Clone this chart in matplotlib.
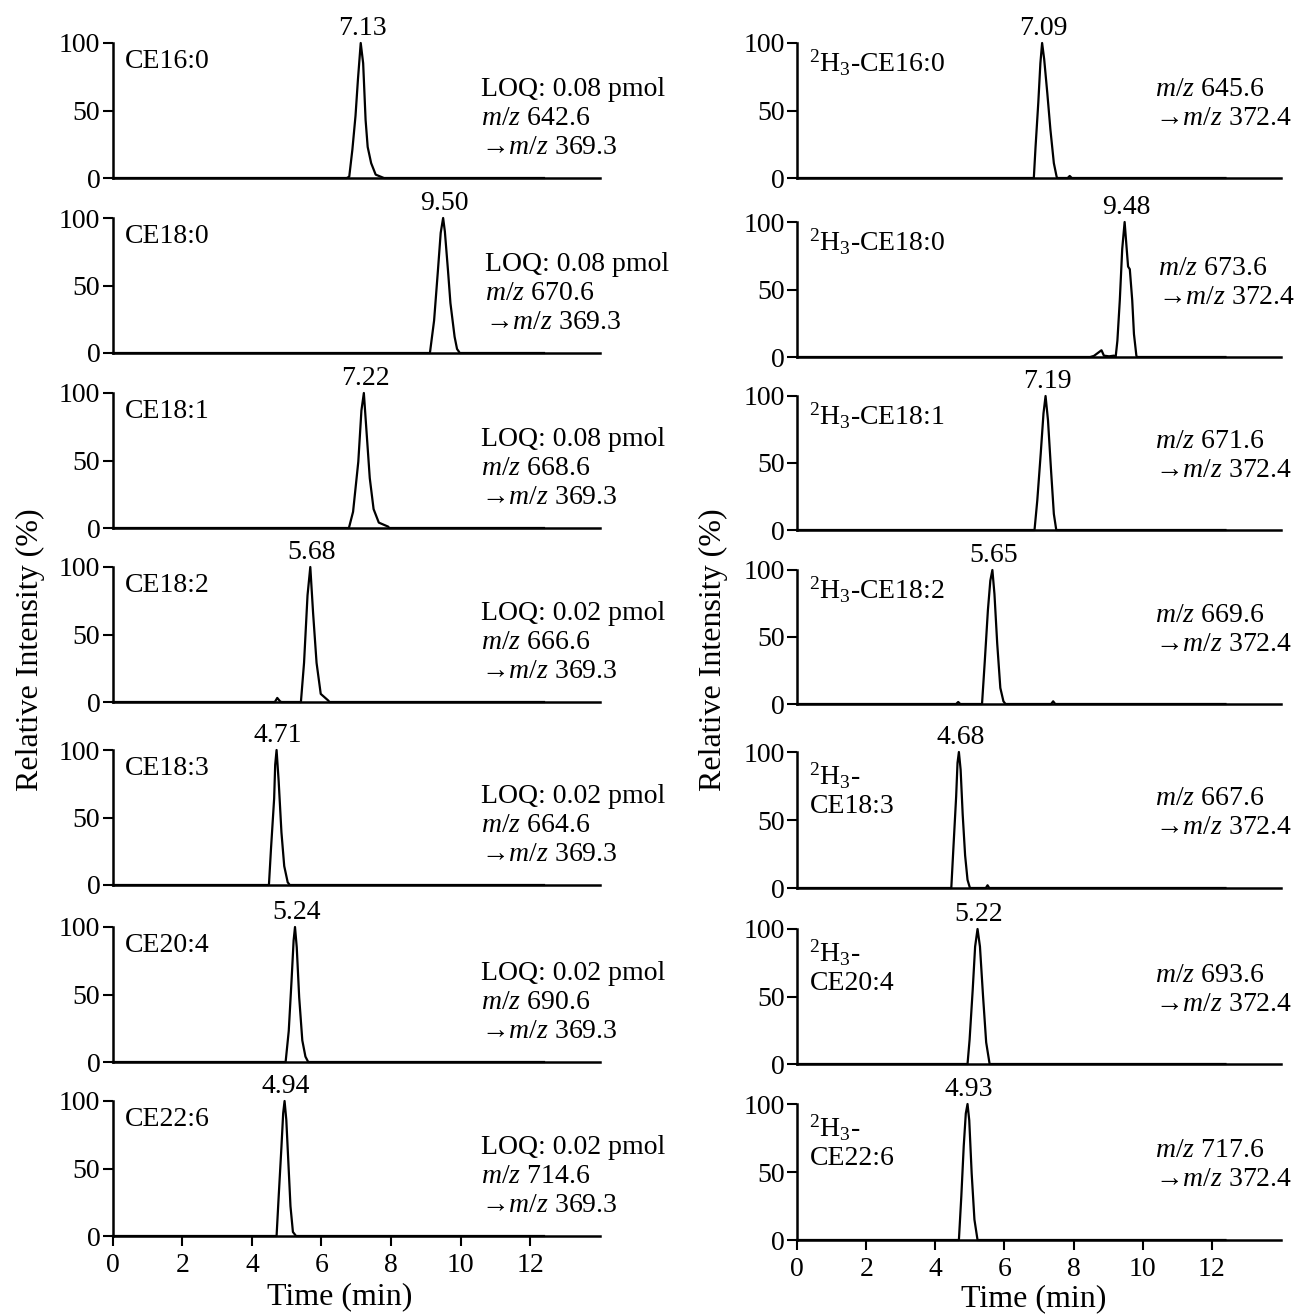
import matplotlib
matplotlib.use("Agg")
import matplotlib.pyplot as plt

plt.rcParams['font.family'] = ['Liberation Serif', 'DejaVu Serif']
plt.rcParams['mathtext.fontset'] = 'custom'
plt.rcParams['mathtext.rm'] = 'Liberation Serif'
plt.rcParams['mathtext.it'] = 'Liberation Serif:italic'

# ---------------- data ----------------
left_names = ["CE16:0", "CE18:0", "CE18:1", "CE18:2", "CE18:3", "CE20:4", "CE22:6"]
left_rt = ["7.13", "9.50", "7.22", "5.68", "4.71", "5.24", "4.94"]
left_loq = ["0.08", "0.08", "0.08", "0.02", "0.02", "0.02", "0.02"]
left_prec = ["642.6", "670.6", "668.6", "666.6", "664.6", "690.6", "714.6"]
left_prod = "369.3"

right_names = ["$^{2}$H$_{3}$-CE16:0", "$^{2}$H$_{3}$-CE18:0", "$^{2}$H$_{3}$-CE18:1",
               "$^{2}$H$_{3}$-CE18:2", "$^{2}$H$_{3}$-\nCE18:3", "$^{2}$H$_{3}$-\nCE20:4",
               "$^{2}$H$_{3}$-\nCE22:6"]
right_rt = ["7.09", "9.48", "7.19", "5.65", "4.68", "5.22", "4.93"]
right_prec = ["645.6", "673.6", "671.6", "669.6", "667.6", "693.6", "717.6"]
right_prod = "372.4"

# chromatogram traces (time in min, relative intensity in %)
L1_t = [0, 6.73, 6.80, 6.89, 6.98, 7.05, 7.13, 7.20, 7.27, 7.33, 7.43, 7.56, 7.75, 7.80, 12.4]
L1_y = [0, 0, 1, 21, 46, 73, 100, 85, 43, 23, 11, 2.5, 0.5, 0, 0]
L2_t = [0, 9.12, 9.24, 9.35, 9.43, 9.50, 9.55, 9.64, 9.71, 9.83, 9.90, 9.98, 12.4]
L2_y = [0, 0, 24, 61, 89, 100, 90, 61, 37, 12, 3, 0, 0]
L3_t = [0, 6.79, 6.91, 7.06, 7.15, 7.22, 7.29, 7.39, 7.50, 7.65, 7.92, 7.95, 12.4]
L3_y = [0, 0, 12, 49, 87, 100, 74, 37, 14, 4, 1, 0, 0]
L4_t = [0, 4.66, 4.73, 4.81, 4.85, 5.41, 5.50, 5.60, 5.68, 5.76, 5.86, 5.98, 6.20, 6.23, 12.4]
L4_y = [0, 0, 3, 0.5, 0, 0, 29, 79, 100, 66, 29, 6, 1, 0, 0]
L5_t = [0, 4.49, 4.55, 4.64, 4.67, 4.71, 4.77, 4.85, 4.93, 5.03, 5.09, 12.4]
L5_y = [0, 0, 27, 64, 89, 100, 77, 39, 14, 2, 0, 0]
L6_t = [0, 4.97, 5.06, 5.14, 5.20, 5.24, 5.29, 5.36, 5.45, 5.54, 5.62, 12.4]
L6_y = [0, 0, 23, 60, 90, 100, 85, 48, 16, 4, 0, 0]
L7_t = [0, 4.71, 4.77, 4.85, 4.90, 4.94, 4.99, 5.05, 5.11, 5.18, 5.27, 12.4]
L7_y = [0, 0, 29, 66, 91, 100, 86, 54, 22, 3, 0, 0]

R1_t = [0, 6.85, 6.90, 6.98, 7.04, 7.09, 7.15, 7.24, 7.33, 7.43, 7.51, 7.53, 7.83, 7.89, 7.95, 12.4]
R1_y = [0, 0, 23, 56, 85, 100, 88, 63, 36, 11, 1, 0, 0, 1.5, 0, 0]
R2_t = [0, 8.48, 8.59, 8.81, 8.88, 9.03, 9.17, 9.22, 9.27, 9.34, 9.41, 9.48, 9.54, 9.58, 9.63, 9.70, 9.75, 9.82, 9.84, 12.4]
R2_y = [0, 0, 0.8, 5, 1, 0.5, 1, 0, 12, 42, 80, 100, 80, 67, 65, 42, 17, 1, 0, 0]
R3_t = [0, 6.87, 6.95, 7.05, 7.13, 7.19, 7.26, 7.35, 7.43, 7.50, 12.4]
R3_y = [0, 0, 22, 57, 87, 100, 82, 44, 12, 0, 0]
R4_t = [0, 4.60, 4.66, 4.72, 5.35, 5.43, 5.52, 5.59, 5.65, 5.71, 5.79, 5.88, 5.97, 6.03, 7.35, 7.41, 7.47, 12.4]
R4_y = [0, 0, 1.5, 0, 0, 32, 70, 92, 100, 82, 45, 12, 2, 0, 0, 2, 0, 0]
R5_t = [0, 4.46, 4.52, 4.60, 4.64, 4.68, 4.73, 4.79, 4.86, 4.93, 5.00, 5.46, 5.51, 5.56, 12.4]
R5_y = [0, 0, 29, 67, 92, 100, 87, 54, 24, 6, 0, 0, 2, 0, 0]
R6_t = [0, 4.93, 4.99, 5.08, 5.15, 5.22, 5.29, 5.38, 5.47, 5.57, 12.4]
R6_y = [0, 0, 18, 55, 87, 100, 87, 50, 16, 0, 0]
R7_t = [0, 4.68, 4.75, 4.82, 4.88, 4.93, 4.98, 5.05, 5.13, 5.22, 12.4]
R7_y = [0, 0, 32, 69, 93, 100, 88, 49, 15, 0, 0]

left_traces = [(L1_t, L1_y), (L2_t, L2_y), (L3_t, L3_y), (L4_t, L4_y),
               (L5_t, L5_y), (L6_t, L6_y), (L7_t, L7_y)]
right_traces = [(R1_t, R1_y), (R2_t, R2_y), (R3_t, R3_y), (R4_t, R4_y),
                (R5_t, R5_y), (R6_t, R6_y), (R7_t, R7_y)]

x_ticks = [0, 2, 4, 6, 8, 10, 12]
y_ticks = [0, 50, 100]

# ---------------- layout (pixels) ----------------
W, H = 1296, 1315
fig = plt.figure(figsize=(W / 100, H / 100), dpi=100)

left_x0, left_w = 112.8, 486.8
right_x0, right_w = 797.3, 483.4
left_tops = [43, 218, 393, 567, 750, 927, 1101]
left_bots = [178, 353, 528, 702, 885, 1062, 1236]
right_tops = [43, 222, 396, 570, 752, 929, 1104]
right_bots = [178, 357, 530, 704, 888, 1064, 1240]

FS = 20
LW = 1.6


def style_axes(ax, bottom):
    for s in ['top', 'right']:
        ax.spines[s].set_visible(False)
    for s in ['left', 'bottom']:
        ax.spines[s].set_linewidth(1.8)
    ax.set_xlim(0, 14)
    ax.set_ylim(0, 100)
    ax.set_yticks(y_ticks)
    ax.tick_params(axis='y', direction='out', length=7, width=1.5, labelsize=FS, pad=2)
    ax.set_xticks(x_ticks)
    if bottom:
        ax.tick_params(axis='x', direction='out', length=7, width=1.5, labelsize=FS, pad=5)
    else:
        ax.tick_params(axis='x', length=0, labelbottom=False)
    ax.patch.set_alpha(0)


axes_left, axes_right = [], []
for i in range(7):
    ax = fig.add_axes([left_x0 / W, 1 - left_bots[i] / H, left_w / W,
                       (left_bots[i] - left_tops[i]) / H])
    style_axes(ax, i == 6)
    t, y = left_traces[i]
    ax.plot(t, y, color='black', lw=LW, clip_on=False)
    ax.annotate(left_rt[i], xy=(float(left_rt[i]), 100), xytext=(1, 6),
                textcoords='offset points', ha='center', va='baseline', fontsize=FS)
    ax.text(0.025, 0.86, left_names[i], transform=ax.transAxes, fontsize=FS,
            ha='left', va='center')
    xt = 10.7 if i == 1 else 10.58
    ax.text(xt, 44, "LOQ: %s pmol\n$\\it{m/z}$ %s\n\u2192$\\it{m/z}$ %s"
            % (left_loq[i], left_prec[i], left_prod),
            fontsize=FS, ha='left', va='center', linespacing=1.22)
    axes_left.append(ax)

    ax = fig.add_axes([right_x0 / W, 1 - right_bots[i] / H, right_w / W,
                       (right_bots[i] - right_tops[i]) / H])
    style_axes(ax, i == 6)
    t, y = right_traces[i]
    ax.plot(t, y, color='black', lw=LW, clip_on=False)
    ax.annotate(right_rt[i], xy=(float(right_rt[i]), 100), xytext=(1, 6),
                textcoords='offset points', ha='center', va='baseline', fontsize=FS)
    if '\n' in right_names[i]:
        ax.text(0.025, 0.72, right_names[i], transform=ax.transAxes, fontsize=FS,
                ha='left', va='center', linespacing=1.15)
    else:
        ax.text(0.025, 0.85, right_names[i], transform=ax.transAxes, fontsize=FS,
                ha='left', va='center')
    xt = 10.45 if i == 1 else 10.36
    ax.text(xt, 55, "$\\it{m/z}$ %s\n\u2192$\\it{m/z}$ %s" % (right_prec[i], right_prod),
            fontsize=FS, ha='left', va='center', linespacing=1.22)
    axes_right.append(ax)

axes_left[-1].set_xlabel("Time (min)", fontsize=23)
axes_left[-1].xaxis.set_label_coords(0.467, -0.345)
axes_right[-1].set_xlabel("Time (min)", fontsize=23)
axes_right[-1].xaxis.set_label_coords(0.49, -0.325)

fig.text(30 / W, 1 - 650 / H, "Relative Intensity (%)", rotation=90, fontsize=23,
         ha='center', va='center')
fig.text(713 / W, 1 - 650 / H, "Relative Intensity (%)", rotation=90, fontsize=23,
         ha='center', va='center')

fig.savefig("out.png", dpi=100, facecolor='white')
